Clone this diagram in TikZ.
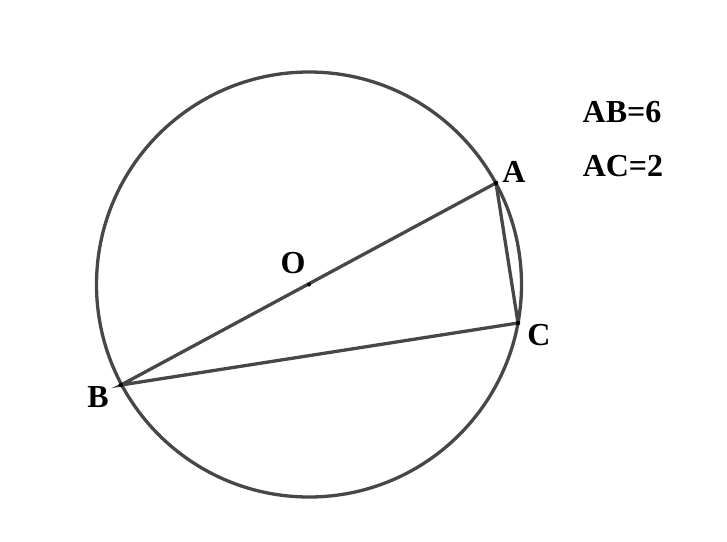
\documentclass[tikz,border=0pt]{standalone}
\usepackage{fontspec}
\setmainfont{Liberation Serif}
\begin{document}
\begin{tikzpicture}[x=1pt,y=-1pt,
  geo/.style={draw=black!72,line width=3.3pt},
  lbl/.style={font=\fontsize{32}{34}\selectfont\bfseries,inner sep=0pt},
  pt/.style={circle,fill=black,inner sep=0pt,minimum size=4.5pt}]
\useasboundingbox (0,0) rectangle (727,541);
\coordinate (O) at (309,284.5);
\coordinate (A) at (496,183);
\coordinate (B) at (121,385);
\coordinate (C) at (518,323);
\draw[geo] (O) circle (212.5);
\draw[geo] (A) -- (B) -- (C) -- cycle;
\node[pt] (dA) at (A) {};
\node[pt] (dB) at (B) {};
\node[pt] (dC) at (C) {};
\node[pt,minimum size=4pt] (dO) at (O) {};
\node[lbl] (la) at (514,172) {A};
\node[lbl] (lb) at (98,397) {B};
\node[lbl] (lc) at (539,335) {C};
\node[lbl] (lo) at (293,263) {O};
\node[lbl] (t1) at (622,112) {AB=6};
\node[lbl] (t2) at (623,166) {AC=2};
\end{tikzpicture}
\end{document}
